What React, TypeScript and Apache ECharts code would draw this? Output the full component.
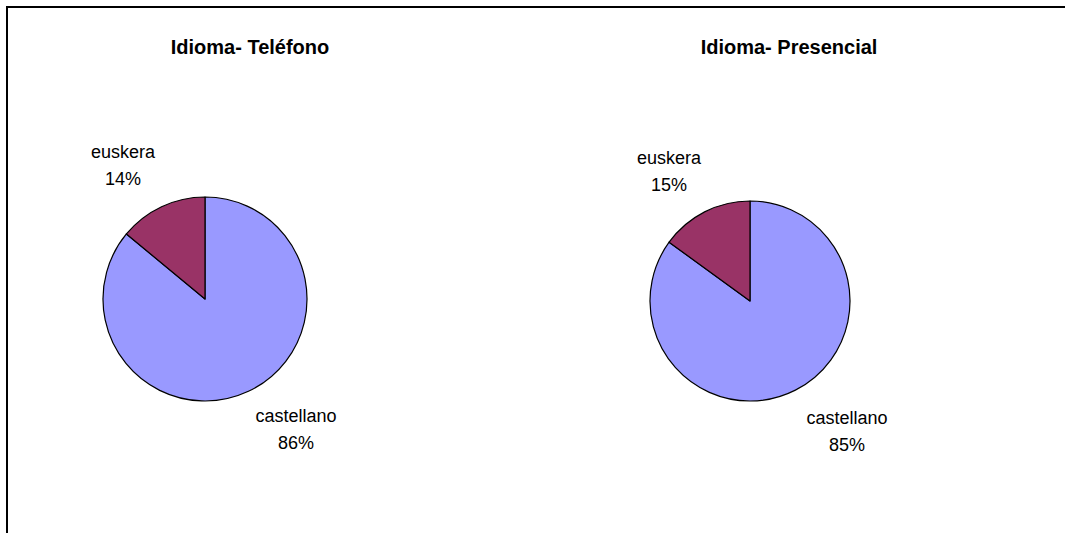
import React, { useEffect, useRef } from "react";
import * as echarts from "echarts";

const categories = ["castellano", "euskera"];
const telefonoValues = [86, 14];
const presencialValues = [85, 15];
const titles = ["Idioma- Teléfono", "Idioma- Presencial"];
const colors = ["#9999FF", "#993366"];

// label anchor positions (series index -> data index -> [x, y])
const labelPos = [
  [[296, 429], [123, 165]],
  [[847, 431], [669, 171]],
];

export default function App() {
  const ref = useRef<HTMLDivElement>(null);
  useEffect(() => {
    if (!ref.current) return;
    const chart = echarts.init(ref.current, undefined, { renderer: "svg" });
    const mk = (vals: number[], center: number[], radius: number, si: number) => ({
      type: "pie",
      center,
      radius,
      startAngle: 90,
      clockwise: true,
      silent: true,
      data: categories.map((c, i) => ({ name: c, value: vals[i], itemStyle: { color: colors[i] } })),
      itemStyle: { borderColor: "#000", borderWidth: 1.2 },
      label: {
        show: true,
        position: "outside",
        formatter: (p: any) => `${p.name}\n${Math.round(p.percent)}%`,
        fontFamily: "Liberation Sans, Arial, sans-serif",
        fontSize: 18,
        lineHeight: 27,
        color: "#000",
        align: "center",
      },
      labelLine: { show: false },
      labelLayout: (params: any) => {
        const pos = labelPos[si][params.dataIndex];
        return { x: pos[0], y: pos[1], align: "center", verticalAlign: "middle" };
      },
    });
    chart.setOption({
      animation: false,
      backgroundColor: "#fff",
      graphic: [
        {
          type: "line",
          shape: { x1: 7, y1: 6, x2: 7, y2: 540 },
          style: { stroke: "#000", lineWidth: 2 },
          silent: true,
        },
        {
          type: "line",
          shape: { x1: 6, y1: 7, x2: 1065, y2: 7 },
          style: { stroke: "#000", lineWidth: 2 },
          silent: true,
        },
        {
          type: "text",
          x: 250,
          y: 47,
          style: {
            text: titles[0],
            font: "bold 20px 'Liberation Sans', Arial, sans-serif",
            fill: "#000",
            align: "center",
            verticalAlign: "middle",
          },
        },
        {
          type: "text",
          x: 789,
          y: 47,
          style: {
            text: titles[1],
            font: "bold 20px 'Liberation Sans', Arial, sans-serif",
            fill: "#000",
            align: "center",
            verticalAlign: "middle",
          },
        },
      ],
      series: [
        mk(telefonoValues, [205, 299], 102, 0),
        mk(presencialValues, [750, 301], 100, 1),
      ],
    });
    return () => chart.dispose();
  }, []);
  return (
    <div
      ref={ref}
      style={{ position: "absolute", left: 0, top: 0, width: 1065, height: 533 }}
    />
  );
}
